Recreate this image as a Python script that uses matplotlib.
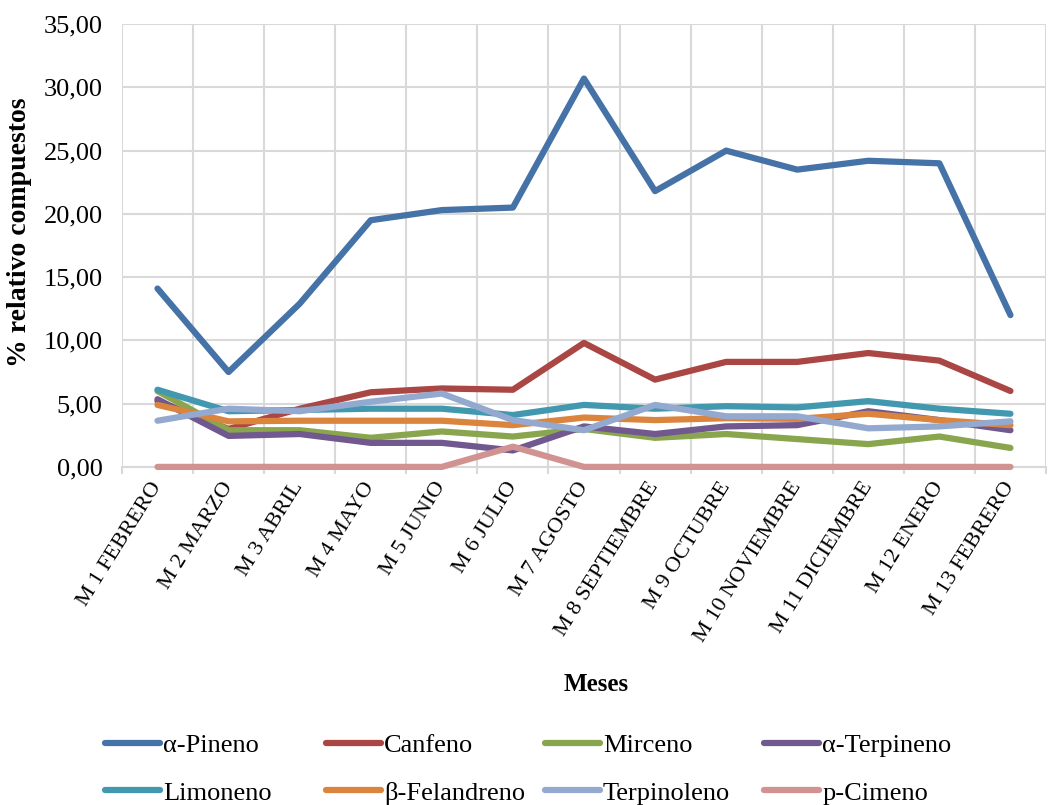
import matplotlib
matplotlib.use("Agg")
import matplotlib.pyplot as plt
import numpy as np

plt.rcParams['font.family'] = ['Liberation Serif', 'DejaVu Serif']

meses = ["M 1 FEBRERO", "M 2 MARZO", "M 3 ABRIL", "M 4 MAYO", "M 5 JUNIO",
         "M 6 JULIO", "M 7 AGOSTO", "M 8 SEPTIEMBRE", "M 9 OCTUBRE",
         "M 10 NOVIEMBRE", "M 11 DICIEMBRE", "M 12 ENERO", "M 13 FEBRERO"]

a_pineno = [14.1, 7.5, 12.9, 19.5, 20.3, 20.5, 30.7, 21.8, 25.0, 23.5, 24.2, 24.0, 12.0]
canfeno = [5.2, 3.0, 4.6, 5.9, 6.2, 6.1, 9.8, 6.9, 8.3, 8.3, 9.0, 8.4, 6.0]
mirceno = [6.0, 2.9, 2.9, 2.3, 2.8, 2.4, 3.0, 2.3, 2.6, 2.2, 1.8, 2.4, 1.5]
a_terpineno = [5.35, 2.45, 2.6, 1.9, 1.9, 1.3, 3.2, 2.6, 3.2, 3.3, 4.4, 3.7, 2.9]
limoneno = [6.1, 4.4, 4.5, 4.6, 4.6, 4.1, 4.9, 4.6, 4.8, 4.7, 5.2, 4.6, 4.2]
b_felandreno = [4.9, 3.6, 3.65, 3.65, 3.65, 3.3, 3.9, 3.7, 3.85, 3.8, 4.2, 3.7, 3.3]
terpinoleno = [3.65, 4.6, 4.4, 5.15, 5.8, 3.7, 2.9, 4.9, 4.0, 4.0, 3.05, 3.2, 3.6]
p_cimeno = [0, 0, 0, 0, 0, 1.6, 0, 0, 0, 0, 0, 0, 0]

series = [
    ("α-Pineno", a_pineno, "#4572A7"),
    ("Canfeno", canfeno, "#AA4643"),
    ("Mirceno", mirceno, "#89A54E"),
    ("α-Terpineno", a_terpineno, "#71588F"),
    ("Limoneno", limoneno, "#4198AF"),
    ("β-Felandreno", b_felandreno, "#DB843D"),
    ("Terpinoleno", terpinoleno, "#93A9CF"),
    ("p-Cimeno", p_cimeno, "#D19392"),
]

fig = plt.figure(figsize=(10.54, 8.05), dpi=100)
ax = fig.add_axes([0.1157, 0.420, 0.8767, 0.550])

x = np.arange(len(meses))
handles = []
for name, vals, col in series:
    h, = ax.plot(x, vals, color=col, lw=4.5, label=name, solid_capstyle='round',
                 solid_joinstyle='round', clip_on=False, zorder=3)
    handles.append(h)

ax.set_xlim(-0.5, len(meses) - 0.5)
ax.set_ylim(0, 35)
yt = np.arange(0, 36, 5)
ax.set_yticks(yt)
ax.set_yticklabels([f"{v:.2f}".replace(".", ",") for v in yt], fontsize=19)

# gridlines sit on the category boundaries
ax.set_xticks(np.arange(-0.5, len(meses), 1.0), minor=True)
ax.set_xticks(x)
ax.set_xticklabels(meses, rotation=58, ha='right', va='center',
                   rotation_mode='anchor', fontsize=16)
ax.tick_params(axis='x', which='major', length=0, pad=12)
ax.tick_params(axis='x', which='minor', length=5, color='#d9d9d9', width=1.5)
ax.tick_params(axis='y', length=0, pad=14)
ax.grid(True, which='minor', axis='x', color='#d9d9d9', lw=1.5)
ax.grid(True, which='major', axis='y', color='#d9d9d9', lw=1.5)
ax.set_axisbelow(True)
for s in ['top', 'right', 'left']:
    ax.spines[s].set_visible(False)
ax.spines['bottom'].set_color('#d9d9d9')
ax.spines['bottom'].set_linewidth(1.5)

ax.set_ylabel("% relativo compuestos", fontsize=20, fontweight='bold')
ax.yaxis.set_label_coords(-0.097, 0.53)
fig.text(0.566, 0.150, "Meses", fontsize=18, fontweight='bold', ha='center', va='center')

# one legend per column so the columns keep an even pitch, like the original
col_x = [105, 326, 545, 764]
for i, cx in enumerate(col_x):
    leg = fig.legend([handles[i], handles[i + 4]],
                     [series[i][0], series[i + 4][0]],
                     loc='upper left', bbox_to_anchor=(cx / 1054, 1 - 734 / 805),
                     frameon=False, fontsize=19, handlelength=2.1,
                     handletextpad=0.1, labelspacing=0.9,
                     borderpad=0, borderaxespad=0)
    for ln in leg.get_lines():
        ln.set_linewidth(4.5)

fig.savefig("out.png", dpi=100)
